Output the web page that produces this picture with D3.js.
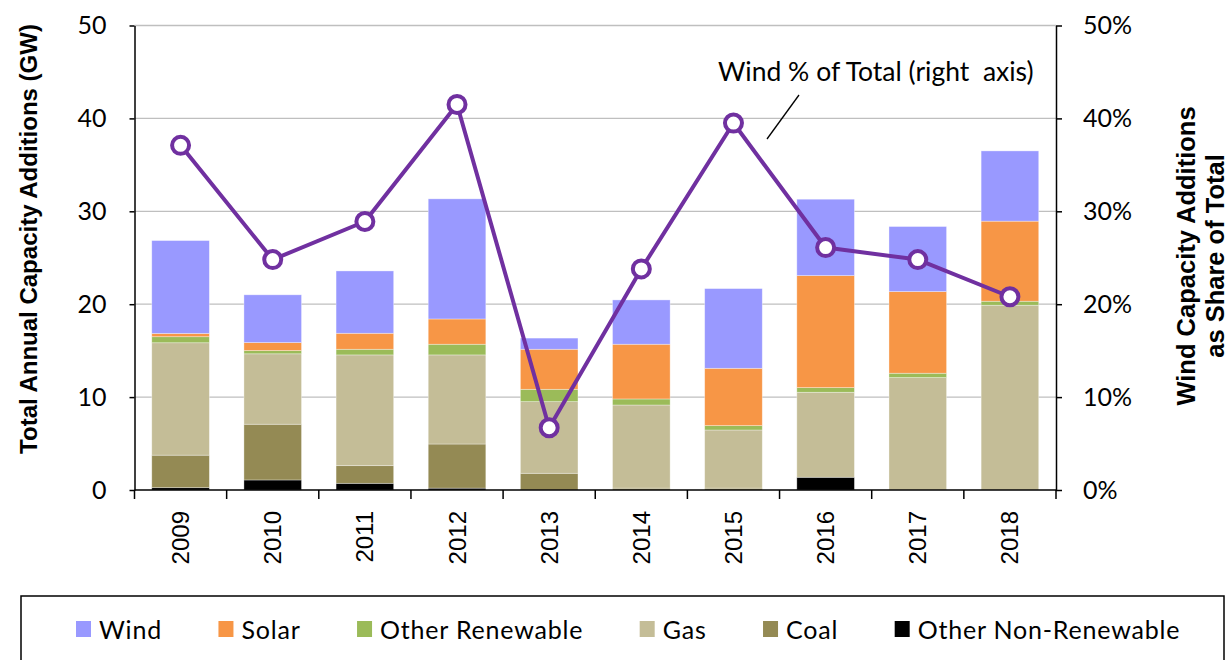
<!DOCTYPE html>
<html>
<head>
<meta charset="utf-8">
<script src="https://cdn.jsdelivr.net/npm/d3@7"></script>
<style>
  body { margin: 0; background: #fff; }
  svg { display: block; }
  .tick-label { font-family: Lato, "Open Sans", sans-serif; font-size: 25px; fill: #000; }
  .axis-title { font-family: "Liberation Sans", Arial, sans-serif; font-weight: bold; fill: #000; }
</style>
</head>
<body>
<svg id="chart" width="1228" height="660"></svg>
<script>
// values (GW), bottom-up stack order below
const years = ["2009", "2010", "2011", "2012", "2013", "2014", "2015", "2016", "2017", "2018"];
const wind = [10.0, 5.14, 6.71, 12.93, 1.2, 4.77, 8.58, 8.22, 7.0, 7.56];
const solar = [0.35, 0.86, 1.72, 2.72, 4.31, 5.89, 6.17, 12.06, 8.79, 8.62];
const otherRenewable = [0.65, 0.35, 0.61, 1.15, 1.33, 0.65, 0.47, 0.5, 0.47, 0.43];
const gas = [12.1, 7.58, 11.92, 9.59, 7.71, 8.95, 6.26, 9.15, 12.1, 19.89];
const coal = [3.5, 6.0, 1.9, 4.75, 1.8, 0.2, 0.2, 0, 0, 0];
const otherNonRenewable = [0.25, 1.08, 0.72, 0.2, 0, 0, 0, 1.37, 0, 0];
// wind share of total (%), right axis
const windShare = [37.1, 24.8, 28.9, 41.5, 6.7, 23.8, 39.5, 26.1, 24.8, 20.8];

const leftTicks = [0, 10, 20, 30, 40, 50];
const rightTicks = [0, 10, 20, 30, 40, 50];

const series = [
  { key: "Other Non-Renewable", values: otherNonRenewable, color: "#000000" },
  { key: "Coal", values: coal, color: "#948A54" },
  { key: "Gas", values: gas, color: "#C4BD97" },
  { key: "Other Renewable", values: otherRenewable, color: "#9BBB59" },
  { key: "Solar", values: solar, color: "#F79646" },
  { key: "Wind", values: wind, color: "#9999FF" },
];
const legendOrder = ["Wind", "Solar", "Other Renewable", "Gas", "Coal", "Other Non-Renewable"];

const plot = { left: 134.5, right: 1056, top: 25.5, bottom: 490 };
const svg = d3.select("#chart");

const x = d3.scaleBand()
  .domain(years)
  .range([plot.left, plot.right])
  .paddingInner(0.375)
  .paddingOuter(0.1875);

const y = d3.scaleLinear().domain([0, 50]).range([plot.bottom, plot.top]);
const yRight = d3.scaleLinear().domain([0, 50]).range([plot.bottom, plot.top]);

// gridlines
svg.append("g")
  .selectAll("line")
  .data(leftTicks.filter(d => d > 0))
  .enter()
  .append("line")
  .attr("x1", plot.left)
  .attr("x2", plot.right)
  .attr("y1", d => y(d))
  .attr("y2", d => y(d))
  .attr("stroke", "#BFBFBF")
  .attr("stroke-width", 1.3);

// stacked bars
const rows = years.map((yr, i) => {
  const row = { year: yr };
  series.forEach(s => { row[s.key] = s.values[i]; });
  return row;
});
const stack = d3.stack().keys(series.map(s => s.key));
const stacked = stack(rows);
const colorOf = {};
series.forEach(s => { colorOf[s.key] = s.color; });

svg.append("g")
  .selectAll("g")
  .data(stacked)
  .enter()
  .append("g")
  .attr("fill", d => colorOf[d.key])
  .selectAll("rect")
  .data(d => d)
  .enter()
  .append("rect")
  .attr("x", d => x(d.data.year))
  .attr("width", x.bandwidth())
  .attr("y", d => y(d[1]))
  .attr("height", d => Math.max(0, y(d[0]) - y(d[1])))
  .attr("stroke", "rgba(255,255,255,0.45)")
  .attr("stroke-width", 0.75);

// left axis
const leftAxis = svg.append("g")
  .attr("transform", `translate(${plot.left},0)`)
  .call(d3.axisLeft(y).tickValues(leftTicks).tickSize(5).tickSizeOuter(0).tickPadding(23));
leftAxis.select(".domain").attr("stroke", "#000").attr("stroke-width", 1.5);
leftAxis.selectAll(".tick line").attr("stroke", "#000").attr("stroke-width", 1.5);
leftAxis.selectAll(".tick text").attr("class", "tick-label").attr("font-size", null).attr("font-family", null);

// right axis
const rightAxis = svg.append("g")
  .attr("transform", `translate(${plot.right},0)`)
  .call(d3.axisRight(yRight).tickValues(rightTicks).tickFormat(d => d + "%").tickSize(6).tickSizeOuter(0).tickPadding(21));
rightAxis.select(".domain").attr("stroke", "#000").attr("stroke-width", 1.5);
rightAxis.selectAll(".tick line").attr("stroke", "#000").attr("stroke-width", 1.5);
rightAxis.selectAll(".tick text").attr("class", "tick-label").attr("font-size", null).attr("font-family", null);

// bottom axis: line, ticks at band boundaries, rotated year labels
const step = x.step();
const bottom = svg.append("g");
bottom.append("line")
  .attr("x1", plot.left).attr("x2", plot.right)
  .attr("y1", plot.bottom).attr("y2", plot.bottom)
  .attr("stroke", "#000").attr("stroke-width", 1.5);
bottom.selectAll("line.tk")
  .data(d3.range(years.length + 1))
  .enter()
  .append("line")
  .attr("class", "tk")
  .attr("x1", i => plot.left + i * step)
  .attr("x2", i => plot.left + i * step)
  .attr("y1", plot.bottom)
  .attr("y2", plot.bottom + 9)
  .attr("stroke", "#000")
  .attr("stroke-width", 1.5);
bottom.selectAll("text")
  .data(years)
  .enter()
  .append("text")
  .attr("transform", d => `translate(${x(d) + x.bandwidth() / 2},511) rotate(-90)`)
  .attr("text-anchor", "end")
  .attr("dominant-baseline", "central")
  .style("font-family", "'Liberation Sans', Arial, sans-serif")
  .style("font-size", "24px")
  .text(d => d);

// wind share line
const cx = (d, i) => x(years[i]) + x.bandwidth() / 2;
const line = d3.line().x(cx).y(d => yRight(d));
svg.append("path")
  .datum(windShare)
  .attr("d", line)
  .attr("fill", "none")
  .attr("stroke", "#7030A0")
  .attr("stroke-width", 4)
  .attr("stroke-linejoin", "round");
svg.append("g")
  .selectAll("circle")
  .data(windShare)
  .enter()
  .append("circle")
  .attr("cx", cx)
  .attr("cy", d => yRight(d))
  .attr("r", 8.5)
  .attr("fill", "#fff")
  .attr("stroke", "#7030A0")
  .attr("stroke-width", 4);

// annotation
svg.append("text")
  .attr("x", 718)
  .attr("y", 81)
  .style("font-family", "Lato, sans-serif")
  .style("font-size", "26.5px")
  .style("white-space", "pre")
  .text("Wind % of Total (right  axis)");
svg.append("line")
  .attr("x1", 767).attr("y1", 139)
  .attr("x2", 799).attr("y2", 95)
  .attr("stroke", "#000").attr("stroke-width", 1.3);

// axis titles
svg.append("text")
  .attr("class", "axis-title")
  .attr("transform", "translate(37,239) rotate(-90)")
  .attr("text-anchor", "middle")
  .style("font-size", "24px")
  .text("Total Annual Capacity Additions (GW)");

const rt = svg.append("text")
  .attr("class", "axis-title")
  .attr("transform", "translate(1195,256) rotate(-90)")
  .attr("text-anchor", "middle")
  .style("font-size", "25.5px");
rt.append("tspan").attr("x", 0).attr("dy", 0).text("Wind Capacity Additions");
rt.append("tspan").attr("x", 0).attr("dy", 29).text("as Share of Total");

// legend
svg.append("rect")
  .attr("x", 21).attr("y", 596)
  .attr("width", 1203).attr("height", 90)
  .attr("fill", "#fff")
  .attr("stroke", "#000")
  .attr("stroke-width", 1.5);

let lx = 76;
legendOrder.forEach(key => {
  const g = svg.append("g").attr("transform", `translate(${lx},0)`);
  g.append("rect")
    .attr("x", 0).attr("y", 621)
    .attr("width", 15).attr("height", 16)
    .attr("fill", colorOf[key]);
  const t = g.append("text")
    .attr("x", 23).attr("y", 629)
    .attr("dominant-baseline", "central")
    .style("font-family", "Lato, sans-serif")
    .style("font-size", "25px")
    .style("letter-spacing", "0.8px")
    .text(key);
  lx += 23 + t.node().getComputedTextLength() + 56.5;
});
</script>
</body>
</html>
